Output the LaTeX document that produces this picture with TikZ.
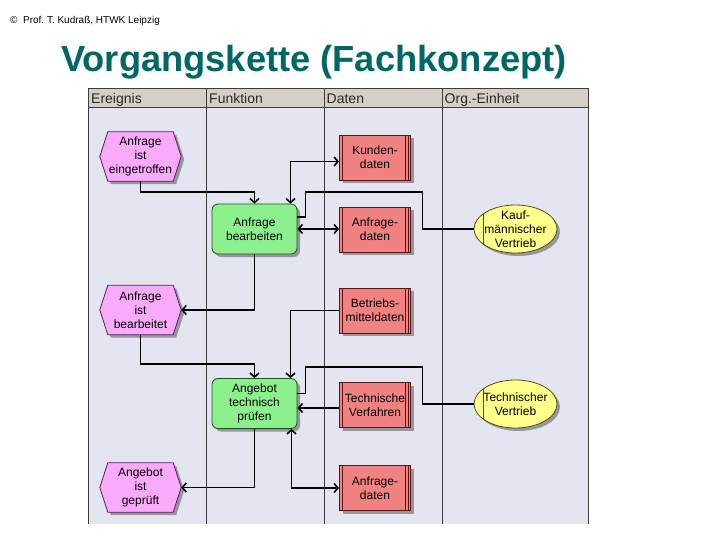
\documentclass[tikz,border=0pt]{standalone}
\usepackage{fontspec}
\setmainfont{Liberation Sans}
\usetikzlibrary{shapes.geometric,shadows,arrows.meta,calc}
\pgfdeclarelayer{back}
\pgfdeclarelayer{bg}
\pgfsetlayers{back,bg,main}
\definecolor{titlec}{RGB}{0,102,102}
\definecolor{lanebg}{RGB}{227,229,241}
\definecolor{hdrbg}{RGB}{212,208,200}
\definecolor{gridc}{RGB}{60,60,60}
\definecolor{hdrtext}{RGB}{40,40,40}
\definecolor{evfill}{RGB}{250,170,250}
\definecolor{evdraw}{RGB}{90,30,90}
\definecolor{fnfill}{RGB}{140,240,140}
\definecolor{fndraw}{RGB}{30,80,30}
\definecolor{dtfill}{RGB}{240,130,130}
\definecolor{dtdraw}{RGB}{90,20,20}
\definecolor{orfill}{RGB}{255,255,140}
\definecolor{ordraw}{RGB}{80,80,20}
\definecolor{shc}{RGB}{150,150,160}
\newcommand{\evshape}[1]{%
  \begin{pgfonlayer}{bg}
  \fill[shc] ([shift={(3pt,-3pt)}]#1.west) -- ([shift={(11pt,-3pt)}]#1.north west)
    -- ([shift={(-5pt,-3pt)}]#1.north east) -- ([shift={(3pt,-3pt)}]#1.east)
    -- ([shift={(-5pt,-3pt)}]#1.south east) -- ([shift={(11pt,-3pt)}]#1.south west) -- cycle;
  \filldraw[fill=evfill, draw=evdraw, line width=0.8pt] (#1.west) -- ([xshift=8pt]#1.north west)
    -- ([xshift=-8pt]#1.north east) -- (#1.east)
    -- ([xshift=-8pt]#1.south east) -- ([xshift=8pt]#1.south west) -- cycle;
  \end{pgfonlayer}}
\begin{document}
\begin{tikzpicture}[x=1pt,y=-1pt,
  shd/.style={drop shadow={shadow xshift=3pt,shadow yshift=-3pt,fill=shc,opacity=1}},
  txt/.style={font=\fontsize{12}{14}\selectfont, text=black, align=center, inner sep=0pt},
  evnode/.style={txt, rectangle, minimum width=81pt, minimum height=49pt},
  fnnode/.style={txt, rectangle, rounded corners=6pt, minimum width=85pt, minimum height=50pt,
    fill=fnfill, draw=fndraw, line width=0.8pt, shd},
  dtnode/.style={txt, rectangle, minimum width=71pt, minimum height=45pt,
    fill=dtfill, draw=dtdraw, line width=0.8pt, shd,
    path picture={
      \draw[dtdraw,line width=0.8pt] ([xshift=2.5pt]path picture bounding box.north west) -- ([xshift=2.5pt]path picture bounding box.south west);
      \draw[dtdraw,line width=0.8pt] ([xshift=-2.5pt]path picture bounding box.north east) -- ([xshift=-2.5pt]path picture bounding box.south east);
      \draw[dtdraw,line width=0.8pt] ([xshift=-5pt]path picture bounding box.north east) -- ([xshift=-5pt]path picture bounding box.south east);
    }},
  ornode/.style={txt, ellipse, inner sep=-8pt, minimum width=83pt, minimum height=48pt,
    fill=orfill, draw=ordraw, line width=0.8pt, shd,
    path picture={
      \draw[ordraw,line width=0.8pt] ([xshift=9pt]path picture bounding box.north west) -- ([xshift=9pt]path picture bounding box.south west);
    }},
  hdr/.style={anchor=base west, inner sep=0pt, font=\fontsize{14}{16}\selectfont, text=hdrtext},
  tip/.tip={Straight Barb[length=4pt,width=9pt]},
  flow/.style={line width=1.6pt, -tip},
  bi/.style={line width=1.6pt, tip-tip},
  orgl/.style={line width=1.6pt}
]
\useasboundingbox (0,0) rectangle (720,540);

% swimlane frame
\begin{pgfonlayer}{back}
\fill[white] (0,0) rectangle (720,540);
\fill[lanebg] (88,88) rectangle (588,524);
\fill[hdrbg] (88,88) rectangle (588,107);
\draw[gridc, line width=0.8pt] (88,88) -- (588,88);
\draw[gridc, line width=0.8pt] (88,107) -- (588,107);
\foreach \xx in {88,206.5,324,442,588} {
  \draw[gridc, line width=0.8pt] (\xx,88) -- (\xx,524);
}
\end{pgfonlayer}

% header texts
\node[anchor=base west, inner sep=0pt, font=\fontsize{10}{12}\selectfont] (credit) at (10,24) {©\ \ Prof.\ T. Kudraß, HTWK Leipzig};
\node[anchor=base west, inner sep=0pt, font=\bfseries\fontsize{36.3}{40}\selectfont, text=titlec] (title) at (61,72) {Vorgangskette (Fachkonzept)};

\node[hdr] (h1) at (91,103.5) {Ereignis};
\node[hdr] (h2) at (209,103.5) {Funktion};
\node[hdr] (h3) at (326.5,103.5) {Daten};
\node[hdr] (h4) at (444.5,103.5) {Org.-Einheit};

% nodes
\node[evnode] (e1) at (140.5,156.5) {Anfrage\\ist\\eingetroffen};
\evshape{e1}
\node[fnnode] (f1) at (254.5,229) {Anfrage\\bearbeiten};
\node[dtnode] (d1) at (375,157.5) {Kunden-\\daten};
\node[dtnode] (d2) at (375,229.5) {Anfrage-\\daten};
\node[ornode] (o1) at (515.5,229) {Kauf-\\männischer\\Vertrieb};

\node[evnode] (e2) at (140.5,310) {Anfrage\\ist\\bearbeitet};
\evshape{e2}
\node[fnnode] (f2) at (254.5,403.5) {Angebot\\technisch\\prüfen};
\node[dtnode] (d3) at (375,310.5) {Betriebs-\\mitteldaten};
\node[dtnode] (d4) at (375,405) {Technische\\Verfahren};
\node[ornode] (o2) at (515.5,404) {Technischer\\Vertrieb};

\node[evnode] (e3) at (140.5,487.5) {Angebot\\ist\\geprüft};
\evshape{e3}
\node[dtnode] (d5) at (375,488) {Anfrage-\\daten};

% connectors
\draw[flow] (e1.south) -- ++(0,11) -| (f1.north);
\draw[bi] ([xshift=36pt]f1.north) |- ([yshift=-4pt]d1.west);
\draw[orgl] (o1.west) -- ++(-51,0) -- ++(0,-37) -| ([xshift=8pt,yshift=12pt]f1.east) -- ([yshift=12pt]f1.east);
\draw[bi] (f1.east) -- (f1.east -| d2.west);
\draw[flow] (f1.south) |- (e2.east);

\draw[flow] (e2.south) -- ++(0,29) -| (f2.north);
\draw[flow] (d3.west) -| ([xshift=36pt]f2.north);
\draw[orgl] (o2.west) -- ++(-51,0) -- ++(0,-37) -| ([xshift=8pt,yshift=10pt]f2.east) -- ([yshift=10pt]f2.east);
\draw[flow] ([yshift=-3pt]d4.west) -- ([yshift=-3pt]d4.west -| f2.east);
\draw[flow] (f2.south) |- (e3.east);
\draw[bi] ([xshift=37pt]f2.south) |- (d5.west);
\end{tikzpicture}
\end{document}
